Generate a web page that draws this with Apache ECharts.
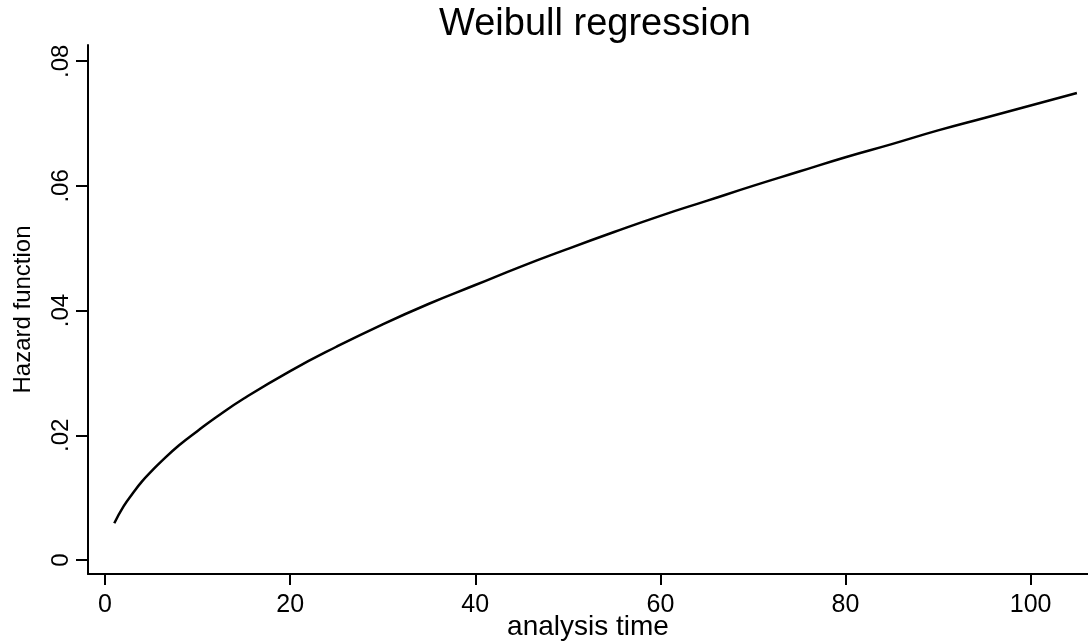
<!DOCTYPE html>
<html>
<head>
<meta charset="utf-8">
<script src="https://cdn.jsdelivr.net/npm/echarts@6/dist/echarts.min.js"></script>
<style>
  html, body { margin: 0; padding: 0; background: #fff; }
  #chart { width: 1088px; height: 642px; }
</style>
</head>
<body>
<div id="chart"></div>
<script>
// analysis time
var times = [1, 2, 3, 4, 5, 6, 8, 10, 12, 15, 20, 25, 30, 35, 40, 45, 50, 55, 60, 65, 70, 75, 80, 85, 90, 95, 100, 105];
// hazard function values
var hazard = [0.0059, 0.0086, 0.0107, 0.0126, 0.0142, 0.0157, 0.0184, 0.0207, 0.0229, 0.0259, 0.0303, 0.0342,
  0.0378, 0.0411, 0.0441, 0.0471, 0.0499, 0.0526, 0.0552, 0.0576, 0.0600, 0.0623, 0.0646, 0.0667, 0.0689,
  0.0709, 0.0729, 0.0749];
var xTicks = [0, 20, 40, 60, 80, 100];
var yTicks = [0, 0.02, 0.04, 0.06, 0.08];

var pts = []
for (var i = 0; i < times.length; i++) {
  pts.push([times[i], hazard[i]])
}

var font = 'Liberation Sans, Arial, sans-serif';
var myChart = echarts.init(document.getElementById('chart'));
var option = {
  backgroundColor: '#fff',
  animation: false,
  title: {
    text: 'Weibull regression',
    left: 590,
    textAlign: 'center',
    top: 1,
    textStyle: { fontFamily: font, fontSize: 38, fontWeight: 'normal', color: '#000' }
  },
  grid: { left: 88, right: 0, top: 45, bottom: 68, outerBoundsMode: 'none', containLabel: false },
  xAxis: {
    type: 'value',
    min: -1.84,
    max: 106.2,
    name: 'analysis time',
    nameLocation: 'middle',
    nameGap: 39,
    nameMoveOverlap: false,
    nameTextStyle: { fontFamily: font, fontSize: 28, color: '#000' },
    axisLine: { show: true, onZero: false, lineStyle: { color: '#000', width: 2 } },
    axisTick: { show: true, length: 11, customValues: xTicks, lineStyle: { color: '#000', width: 2 } },
    axisLabel: { customValues: xTicks, margin: 19, fontFamily: font, fontSize: 25, color: '#000' },
    splitLine: { show: false }
  },
  yAxis: {
    type: 'value',
    min: -0.00225,
    max: 0.0826,
    name: 'Hazard function',
    nameLocation: 'middle',
    nameGap: 53,
    nameTextStyle: { fontFamily: font, fontSize: 24, color: '#000' },
    axisLine: { show: true, onZero: false, lineStyle: { color: '#000', width: 2 } },
    axisTick: { show: true, length: 12, customValues: yTicks, lineStyle: { color: '#000', width: 2 } },
    axisLabel: {
      customValues: yTicks,
      rotate: 90,
      margin: 15,
      fontFamily: font,
      fontSize: 24,
      color: '#000',
      formatter: function (v) {
        return v === 0 ? '0' : String(v).replace(/^0/, '');
      }
    },
    splitLine: { show: false }
  },
  series: [{
    type: 'line',
    data: pts,
    smooth: true,
    showSymbol: false,
    lineStyle: { color: '#000', width: 2.5 }
  }]
};
myChart.setOption(option);
</script>
</body>
</html>
